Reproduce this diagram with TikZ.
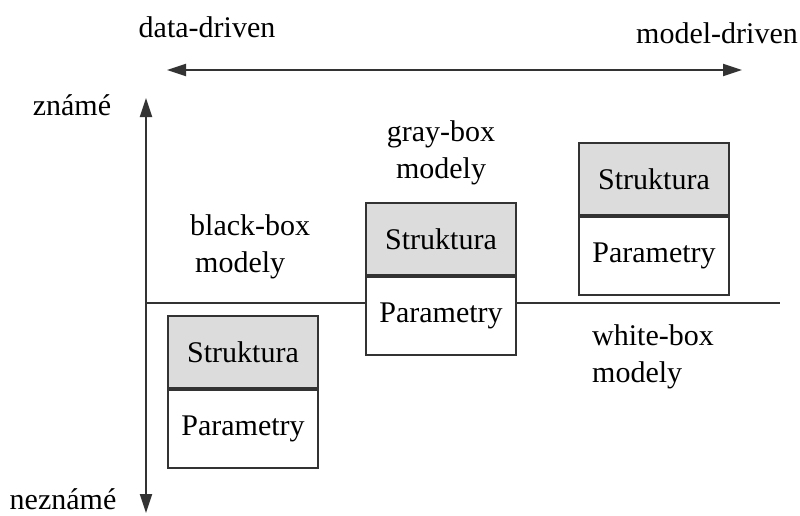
\documentclass[tikz,border=0pt]{standalone}
\usepackage{fontspec}
\setmainfont{Liberation Serif}
\usetikzlibrary{arrows.meta,positioning}
\definecolor{linegray}{HTML}{333333}
\definecolor{headgray}{HTML}{DCDCDC}
\begin{document}
\begin{tikzpicture}[x=1pt,y=-1pt,
  axisline/.style={draw=linegray,line width=2pt},
  tip/.tip={Triangle[length=19pt,width=12pt]},
  axisarrow/.style={axisline,-tip},
  headbox/.style={draw=linegray,line width=2pt,fill=headgray,minimum width=150pt,minimum height=72pt,inner sep=0pt,font=\fontsize{30}{32}\selectfont},
  parbox/.style={draw=linegray,line width=2pt,fill=white,minimum width=150pt,minimum height=78pt,inner sep=0pt,font=\fontsize{30}{32}\selectfont},
  lbl/.style={font=\fontsize{30}{37}\selectfont,inner sep=0pt}]
\useasboundingbox (0,0) rectangle (800,515);
\fill[white] (0,0) rectangle (800,515);

% axes
\coordinate (dleft) at (167,70);
\coordinate (dright) at (742,70);
\draw[axisline,tip-tip] (dleft) -- (dright);
\coordinate (yorig) at (146,303);
\coordinate (ytop) at (146,98);
\coordinate (ybot) at (146,513);
\coordinate (xend) at (780,303);
\draw[axisarrow] (yorig) -- (ytop);
\draw[axisarrow] (yorig) -- (ybot);
\draw[axisline] (yorig) -- (xend);

% axis labels
\node[lbl,anchor=base] (dd) at (207,37) {data-driven};
\node[lbl,anchor=base] (md) at (717,43) {model-driven};
\node[lbl,anchor=base] (zn) at (72,115) {známé};
\node[lbl,anchor=base] (nz) at (63,509) {neznámé};

% black-box
\node[headbox,anchor=north west] (s1) at (167,315) {Struktura};
\node[parbox,anchor=north] (p1) at (s1.south) {Parametry};
% gray-box
\node[headbox,anchor=north west] (s2) at (365,202) {Struktura};
\node[parbox,anchor=north] (p2) at (s2.south) {Parametry};
% white-box
\node[headbox,anchor=north west] (s3) at (578,142) {Struktura};
\node[parbox,anchor=north] (p3) at (s3.south) {Parametry};

% category labels (base anchor sits on the second line)
\node[lbl,align=left,anchor=base west] (bb) at (190,272) {black-box\\\hspace*{5pt}modely};
\node[lbl,align=center,anchor=base] (gb) at (441,178) {gray-box\\modely};
\node[lbl,align=left,anchor=base west] (wb) at (592,382) {white-box\\modely};
\end{tikzpicture}
\end{document}
